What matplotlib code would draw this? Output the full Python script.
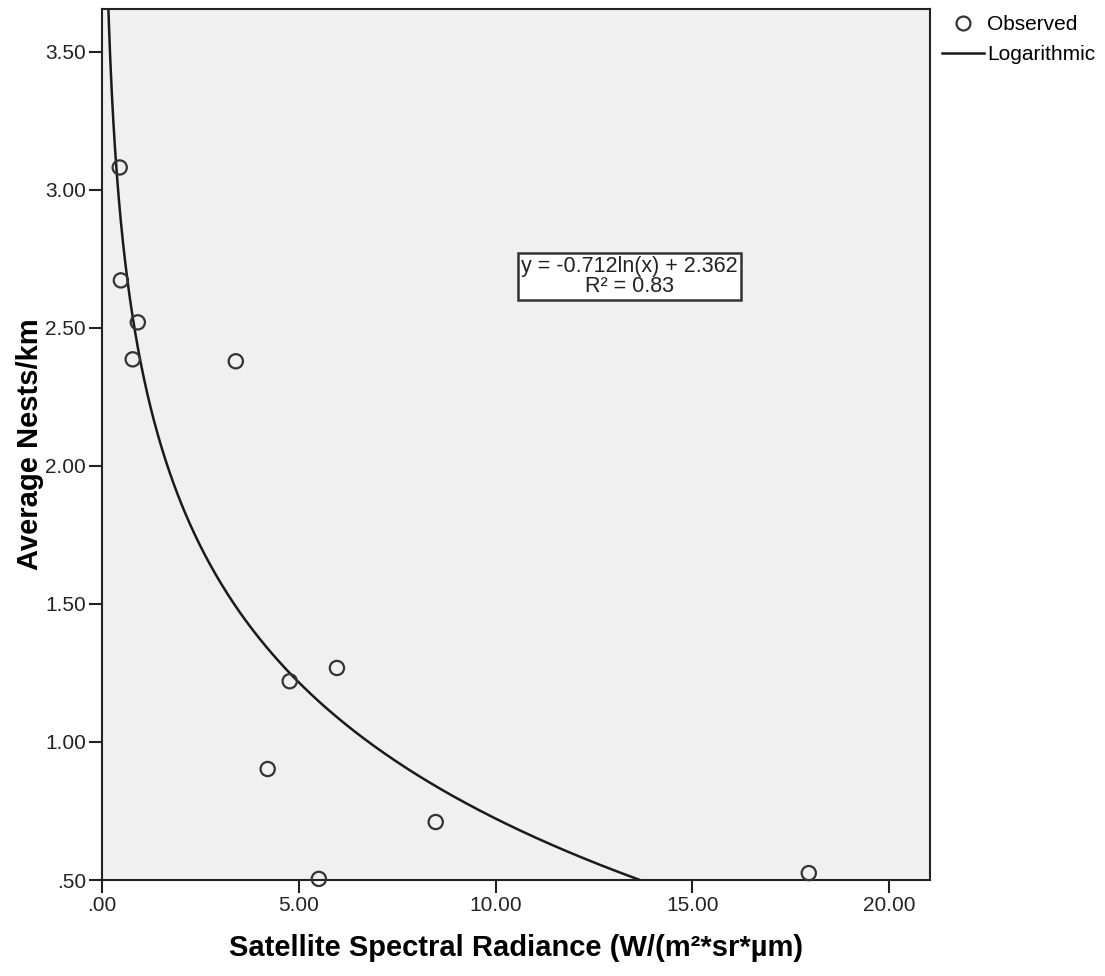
import numpy as np
import matplotlib
matplotlib.use("Agg")
import matplotlib.pyplot as plt
from matplotlib.lines import Line2D

# observed points
radiance = [0.45, 0.48, 0.91, 0.78, 3.40, 5.97, 4.77, 4.21, 8.48, 5.51, 17.96]
nests = [3.081, 2.672, 2.520, 2.386, 2.379, 1.268, 1.220, 0.902, 0.710, 0.504, 0.525]

# logarithmic fit shown in the box
slope = -0.712
intercept = 2.362
r2 = 0.83

xticks = [0, 5, 10, 15, 20]
xtick_labels = [".00", "5.00", "10.00", "15.00", "20.00"]
yticks = [0.5, 1.0, 1.5, 2.0, 2.5, 3.0, 3.5]
ytick_labels = [".50", "1.00", "1.50", "2.00", "2.50", "3.00", "3.50"]

plt.rcParams['font.family'] = ['Liberation Sans', 'DejaVu Sans']

fig = plt.figure(figsize=(11.05, 9.76), dpi=100)
ax = fig.add_axes([102/1105, 96/976, (930-102)/1105, (880-9)/976])
ax.set_facecolor('#f0f0f0')

xs = np.linspace(0.05, 21.04, 2000)
ax.plot(xs, slope*np.log(xs) + intercept, color='#1a1a1a', lw=1.8, zorder=2)
ax.scatter(radiance, nests, s=105, facecolors='none', edgecolors='#333333',
           linewidths=1.6, zorder=3, clip_on=False)

ax.set_xlim(0, 21.04)
ax.set_ylim(0.5, 3.655)
ax.set_xticks(xticks)
ax.set_xticklabels(xtick_labels)
ax.set_yticks(yticks)
ax.set_yticklabels(ytick_labels)
ax.tick_params(direction='out', length=9.5, width=1.5, labelsize=15,
               colors='#222222', pad=2)
for s in ax.spines.values():
    s.set_linewidth(1.5)
    s.set_color('#222222')

lab_font = dict(fontweight='bold', fontsize=21)
ax.set_xlabel("Satellite Spectral Radiance (W/(m²*sr*µm)", labelpad=14, **lab_font)
ax.set_ylabel("Average Nests/km", labelpad=1, **lab_font)

ax.text(0.637, 0.693, f"y = {slope}ln(x) + {intercept}\nR² = {r2}",
        transform=ax.transAxes, ha='center', va='center', fontsize=15.5,
        linespacing=0.92, color='#222222',
        bbox=dict(boxstyle='square,pad=0.15', facecolor='white',
                  edgecolor='#333333', linewidth=1.8))

handles = [Line2D([], [], marker='o', ls='none', markersize=10,
                  markerfacecolor='none', markeredgecolor='#333333',
                  markeredgewidth=1.6),
           Line2D([], [], color='#1a1a1a', lw=1.8)]
fig.legend(handles, ["Observed", "Logarithmic"], loc='upper left',
           bbox_to_anchor=(942/1105, 1 - 15/976), frameon=False, fontsize=15,
           handlelength=2.0, handletextpad=0.15, labelspacing=0.55,
           borderpad=0, borderaxespad=0)

fig.savefig("out.png", dpi=100)
